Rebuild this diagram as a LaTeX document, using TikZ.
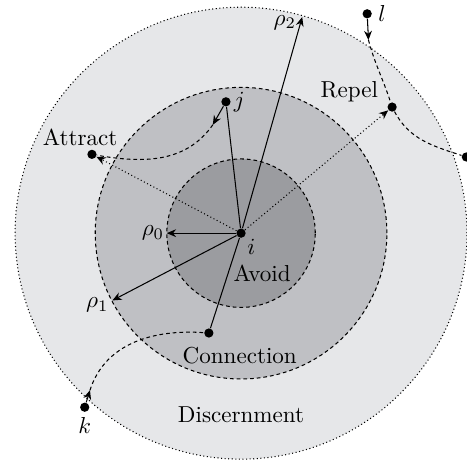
\documentclass[tikz,border=0pt]{standalone}
\usetikzlibrary{arrows.meta,positioning}
\definecolor{discern}{RGB}{230,231,233}
\definecolor{connect}{RGB}{191,192,196}
\definecolor{avoid}{RGB}{155,156,160}
\tikzset{
  dot/.style={circle, fill=black, inner sep=0pt, minimum size=4pt},
  ar/.style={-{Stealth[length=4pt,width=3.4pt]}, line width=0.45pt},
  traj/.style={line width=0.45pt, dash pattern=on 1.6pt off 1.3pt},
  ray/.style={line width=0.45pt, dash pattern=on 0.45pt off 1.1pt, -{Stealth[length=4pt,width=3.4pt]}},
  zone/.style={line width=0.45pt, dash pattern=on 1.6pt off 1.3pt},
  lbl/.style={inner sep=1pt},
}

\begin{document}
\begin{tikzpicture}[x=1cm,y=1cm]
\useasboundingbox (-3.67,-3.44) rectangle (3.44,3.55);

% ---- the three zones round agent i ----
\coordinate (c) at (0,0);
\draw[line width=0.45pt, dash pattern=on 0.45pt off 1.1pt, fill=discern] (c) circle (3.44);
\draw[zone, fill=connect] (c) circle (2.22);
\draw[zone, fill=avoid] (c) circle (1.13);

% ---- agents ----
\node[dot] (i) at (c) {};
\node[dot] (j) at (-0.23,2.00) {};
\node[dot] (l) at (1.92,3.34) {};
\node[dot] (k) at (-2.38,-2.65) {};
\node[dot] (att) at (-2.27,1.20) {};
\node[dot] (rep) at (2.30,1.92) {};
\node[dot] (ext) at (3.43,1.16) {};
\node[dot] (con) at (-0.49,-1.52) {};

\node[lbl, below right=0pt and 0pt of i] (ilbl) {$i$};
\node[lbl, right=0pt of j] (jlbl) {$j$};
\node[lbl, right=1.5pt of l] (llbl) {$l$};
\node[lbl, below=1pt of k] (klbl) {$k$};

% ---- radii ----
\coordinate (r0) at (180:1.13);
\coordinate (r1) at (207.6:2.21);
\coordinate (r2) at (74.2:3.42);
\draw[ar] (i) -- (r0);
\draw[ar] (i) -- (r1);
\draw[ar] (i) -- (r2);
\node[lbl, left=0pt of r0] (r0lbl) {$\rho_0$};
\node[lbl, left=0.5pt of r1, yshift=-2pt] (r1lbl) {$\rho_1$};
\node[lbl, left=1.5pt of r2, yshift=-2.5pt] (r2lbl) {$\rho_2$};

% ---- links and directions ----
\draw[line width=0.45pt] (i) -- (j);
\draw[line width=0.45pt] (i) -- (con);
\draw[ray] (i) -- (att);
\draw[ray] (i) -- (rep);

% ---- trajectories ----
\coordinate (ja) at (-0.43,1.65);
\coordinate (la) at (1.94,2.94);
\coordinate (ka) at (-2.30,-2.39);
\draw[ar] (j) -- (ja);
\draw[ar] (l) -- (la);
\draw[ar] (k) -- (ka);
\draw[traj] (ja) to[out=235,in=-10] (att);
\draw[traj] (la) to[out=-75,in=108] (rep);
\draw[traj] (rep) to[out=-62,in=162] (ext);
\draw[traj] (ka) to[out=72,in=176] (con);

% ---- zone names ----
\node (avoidlbl) at (0.32,-0.61) {Avoid};
\node (connlbl) at (-0.02,-1.86) {Connection};
\node (disclbl) at (0,-2.77) {Discernment};
\node (attlbl) at (-2.45,1.46) {Attract};
\node (replbl) at (1.65,2.15) {Repel};

\end{tikzpicture}
\end{document}
